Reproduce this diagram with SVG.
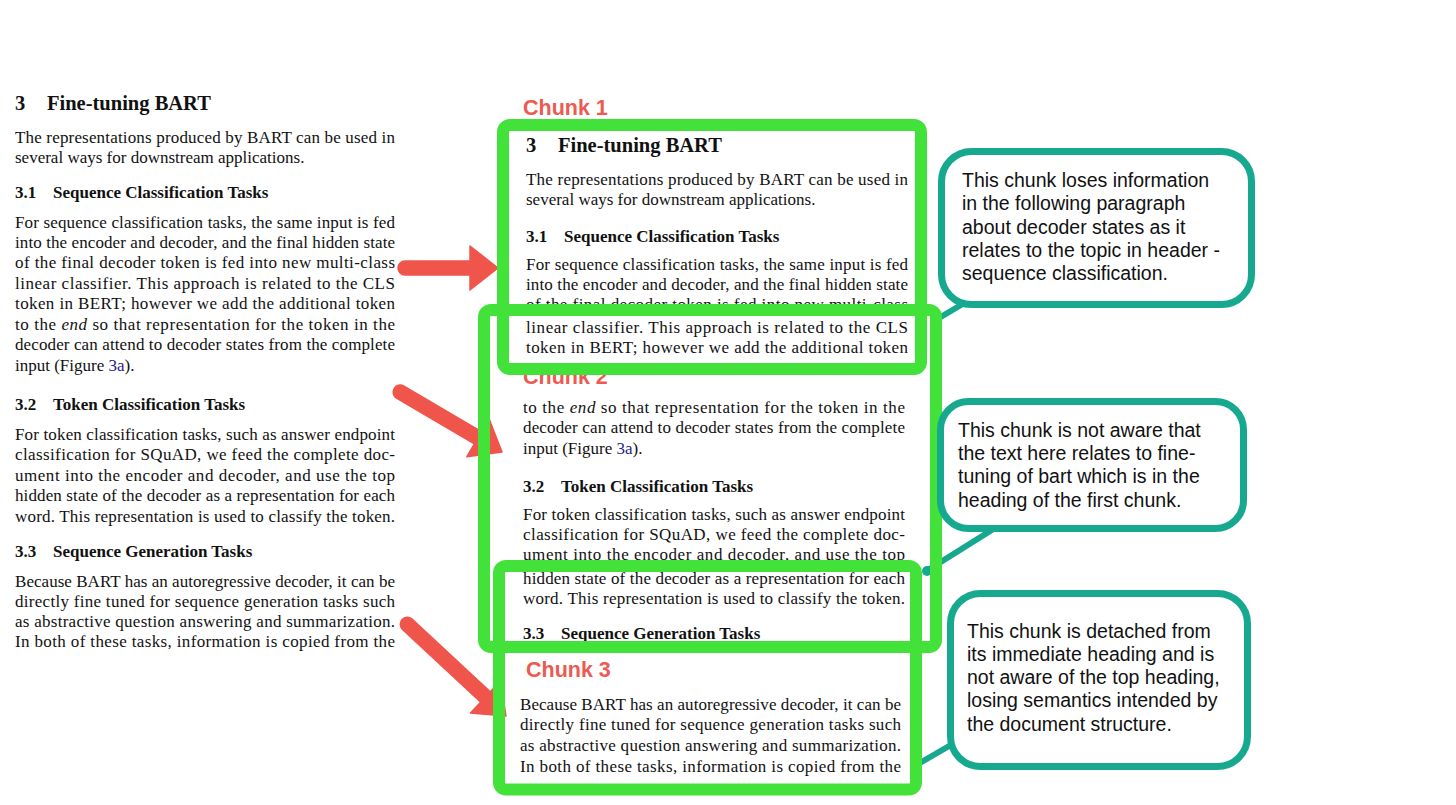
<svg xmlns="http://www.w3.org/2000/svg" width="1456" height="805" viewBox="0 0 1456 805">
<style>
.b{font-family:"Liberation Serif","Times New Roman",serif;font-size:17px;fill:#111}
.h1{font-family:"Liberation Serif","Times New Roman",serif;font-size:20.5px;font-weight:bold;fill:#111}
.h2{font-family:"Liberation Serif","Times New Roman",serif;font-size:17px;font-weight:bold;fill:#111}
.lbl{font-family:"Liberation Sans",Arial,sans-serif;font-size:21.5px;font-weight:bold;fill:#ec5a50}
.frame{fill:none;stroke:#42e23a;stroke-width:12}
.bubble{fill:#fff;stroke:#17a98f;stroke-width:7}
.note{font-family:"Liberation Sans",Arial,sans-serif;font-size:19.5px;fill:#111}
.tail{stroke:#17a98f;stroke-width:6;stroke-linecap:round;fill:none}
.arrow{fill:#f0554b;stroke:#f0554b;stroke-width:1.5;stroke-linejoin:round}
.lnk{fill:#23238a}
</style>
<rect width="1456" height="805" fill="#fff"/>

<g id="source-page">
<text class="h1" x="15" y="110">3</text><text class="h1" x="47" y="110">Fine-tuning BART</text>
<text class="b" x="15" y="143" textLength="380" lengthAdjust="spacing">The representations produced by BART can be used in</text>
<text class="b" x="15" y="163">several ways for downstream applications.</text>
<text class="h2" x="15" y="198">3.1</text><text class="h2" x="53" y="198">Sequence Classification Tasks</text>
<text class="b" x="15" y="228" textLength="380" lengthAdjust="spacing">For sequence classification tasks, the same input is fed</text>
<text class="b" x="15" y="248" textLength="380" lengthAdjust="spacing">into the encoder and decoder, and the final hidden state</text>
<text class="b" x="15" y="268" textLength="380" lengthAdjust="spacing">of the final decoder token is fed into new multi-class</text>
<text class="b" x="15" y="289" textLength="380" lengthAdjust="spacing">linear classifier.  This approach is related to the CLS</text>
<text class="b" x="15" y="309" textLength="380" lengthAdjust="spacing">token in BERT; however we add the additional token</text>
<text class="b" x="15" y="330" textLength="380" lengthAdjust="spacing">to the <tspan font-style="italic">end</tspan> so that representation for the token in the</text>
<text class="b" x="15" y="350" textLength="380" lengthAdjust="spacing">decoder can attend to decoder states from the complete</text>
<text class="b" x="15" y="371">input (Figure <tspan class="lnk">3a</tspan>).</text>
<text class="h2" x="15" y="410">3.2</text><text class="h2" x="53" y="410">Token Classification Tasks</text>
<text class="b" x="15" y="440" textLength="380" lengthAdjust="spacing">For token classification tasks, such as answer endpoint</text>
<text class="b" x="15" y="460" textLength="380" lengthAdjust="spacing">classification for SQuAD, we feed the complete doc-</text>
<text class="b" x="15" y="481" textLength="380" lengthAdjust="spacing">ument into the encoder and decoder, and use the top</text>
<text class="b" x="15" y="501" textLength="380" lengthAdjust="spacing">hidden state of the decoder as a representation for each</text>
<text class="b" x="15" y="522" textLength="380" lengthAdjust="spacing">word. This representation is used to classify the token.</text>
<text class="h2" x="15" y="557">3.3</text><text class="h2" x="53" y="557">Sequence Generation Tasks</text>
<text class="b" x="15" y="587" textLength="380" lengthAdjust="spacing">Because BART has an autoregressive decoder, it can be</text>
<text class="b" x="15" y="607" textLength="380" lengthAdjust="spacing">directly fine tuned for sequence generation tasks such</text>
<text class="b" x="15" y="627" textLength="380" lengthAdjust="spacing">as abstractive question answering and summarization.</text>
<text class="b" x="15" y="647" textLength="380" lengthAdjust="spacing">In both of these tasks, information is copied from the</text>
</g>

<g id="chunk2-text">
<text class="lbl" x="523" y="384">Chunk 2</text>
<text class="b" x="523" y="413" textLength="382" lengthAdjust="spacing">to the <tspan font-style="italic">end</tspan> so that representation for the token in the</text>
<text class="b" x="523" y="433" textLength="382" lengthAdjust="spacing">decoder can attend to decoder states from the complete</text>
<text class="b" x="523" y="454">input (Figure <tspan class="lnk">3a</tspan>).</text>
<text class="h2" x="523" y="492">3.2</text><text class="h2" x="561" y="492">Token Classification Tasks</text>
<text class="b" x="523" y="520" textLength="382" lengthAdjust="spacing">For token classification tasks, such as answer endpoint</text>
<text class="b" x="523" y="540" textLength="382" lengthAdjust="spacing">classification for SQuAD, we feed the complete doc-</text>
<text class="b" x="523" y="560" textLength="382" lengthAdjust="spacing">ument into the encoder and decoder, and use the top</text>
<text class="b" x="523" y="584" textLength="382" lengthAdjust="spacing">hidden state of the decoder as a representation for each</text>
<text class="b" x="523" y="604" textLength="382" lengthAdjust="spacing">word. This representation is used to classify the token.</text>
<text class="h2" x="523" y="639">3.3</text><text class="h2" x="561" y="639">Sequence Generation Tasks</text>
</g>

<g id="chunk1-text">
<text class="lbl" x="523" y="115">Chunk 1</text>
<text class="h1" x="526" y="152">3</text><text class="h1" x="558" y="152">Fine-tuning BART</text>
<text class="b" x="526" y="185" textLength="382" lengthAdjust="spacing">The representations produced by BART can be used in</text>
<text class="b" x="526" y="205">several ways for downstream applications.</text>
<text class="h2" x="526" y="242">3.1</text><text class="h2" x="564" y="242">Sequence Classification Tasks</text>
<text class="b" x="526" y="270" textLength="382" lengthAdjust="spacing">For sequence classification tasks, the same input is fed</text>
<text class="b" x="526" y="290" textLength="382" lengthAdjust="spacing">into the encoder and decoder, and the final hidden state</text>
<text class="b" x="526" y="310" textLength="382" lengthAdjust="spacing">of the final decoder token is fed into new multi-class</text>
<text class="b" x="526" y="333" textLength="382" lengthAdjust="spacing">linear classifier.  This approach is related to the CLS</text>
<text class="b" x="526" y="353" textLength="382" lengthAdjust="spacing">token in BERT; however we add the additional token</text>
</g>

<g id="chunk3-text">
<text class="lbl" x="526" y="677">Chunk 3</text>
<text class="b" x="520" y="710" textLength="381" lengthAdjust="spacing">Because BART has an autoregressive decoder, it can be</text>
<text class="b" x="520" y="730" textLength="381" lengthAdjust="spacing">directly fine tuned for sequence generation tasks such</text>
<text class="b" x="520" y="751" textLength="381" lengthAdjust="spacing">as abstractive question answering and summarization.</text>
<text class="b" x="520" y="772" textLength="381" lengthAdjust="spacing">In both of these tasks, information is copied from the</text>
</g>

<g id="connectors">
<path class="arrow" d="M405,261 L470,261 L470,246 L498,268 L470,290 L470,275 L405,275 A7,7 0 0 1 405,261 Z"/>
<path class="arrow" d="M403.55,385.97 L481.45,431.77 L489.05,418.84 L502,452 L466.75,456.76 L474.35,443.83 L396.45,398.03 A7,7 0 0 1 403.55,385.97 Z"/>
<path class="arrow" d="M411.76,618.88 L490.26,691.88 L500.46,680.9 L506,716 L470.54,713.1 L480.74,702.12 L402.24,629.12 A7,7 0 0 1 411.76,618.88 Z"/>
<line class="tail" x1="966" y1="302" x2="934" y2="321"/>
<line class="tail" x1="995" y1="528" x2="928" y2="570"/>
<circle cx="927" cy="571" r="5" fill="#17a98f"/>
<line class="tail" x1="956" y1="742" x2="918" y2="764"/>
</g>

<g id="chunk1-frame"><rect class="frame" x="503" y="125" width="418" height="244" rx="7"/></g>
<g id="chunk2-frame"><rect class="frame" x="484" y="310" width="452" height="337" rx="7"/></g>
<g id="chunk3-frame"><rect class="frame" x="499" y="566" width="417" height="223.5" rx="7"/></g>

<g id="note1">
<rect class="bubble" x="941.5" y="151.5" width="310" height="153" rx="30"/>
<text class="note" x="962" y="187">This chunk loses information</text>
<text class="note" x="962" y="210">in the following paragraph</text>
<text class="note" x="962" y="234">about decoder states as it</text>
<text class="note" x="962" y="257">relates to the topic in header -</text>
<text class="note" x="962" y="280">sequence classification.</text>
</g>
<g id="note2">
<rect class="bubble" x="940.5" y="401.5" width="303" height="127" rx="28"/>
<text class="note" x="958" y="437">This chunk is not aware that</text>
<text class="note" x="958" y="460">the text here relates to fine-</text>
<text class="note" x="958" y="483">tuning of bart which is in the</text>
<text class="note" x="958" y="507">heading of the first chunk.</text>
</g>
<g id="note3">
<rect class="bubble" x="950.5" y="593.5" width="297" height="173" rx="30"/>
<text class="note" x="967" y="638">This chunk is detached from</text>
<text class="note" x="967" y="661">its immediate heading and is</text>
<text class="note" x="967" y="684">not aware of the top heading,</text>
<text class="note" x="967" y="707">losing semantics intended by</text>
<text class="note" x="967" y="731">the document structure.</text>
</g>
</svg>
